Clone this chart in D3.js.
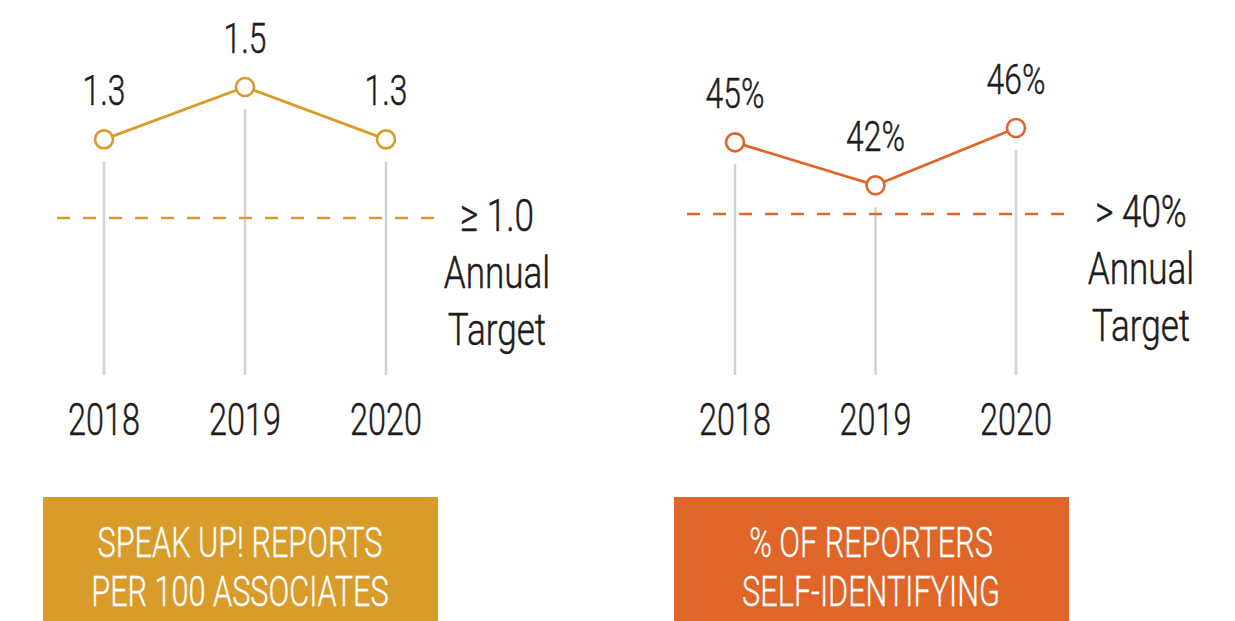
<!DOCTYPE html>
<html>
<head>
<meta charset="utf-8">
<script src="https://cdn.jsdelivr.net/npm/d3@7"></script>
<style>
  body { margin: 0; background: #fff; }
  text { font-family: Roboto, "Liberation Sans Narrow", sans-serif; font-weight: 300; }
</style>
</head>
<body>
<svg></svg>
<script>
// data
const years = ["2018", "2019", "2020"];

const reportsPer100 = [1.3, 1.5, 1.3];
const reportsLabels = ["1.3", "1.5", "1.3"];
const reportsTarget = 1.0;
const reportsTargetLabel = ["\u2265 1.0", "Annual", "Target"];
const reportsTitle = ["SPEAK UP! REPORTS", "PER 100 ASSOCIATES"];

const selfIdPct = [45, 42, 46];
const selfIdLabels = ["45%", "42%", "46%"];
const selfIdTarget = 40;
const selfIdTargetLabel = ["> 40%", "Annual", "Target"];
const selfIdTitle = ["% OF REPORTERS", "SELF-IDENTIFYING"];

const width = 1235;
const height = 621;
const squeeze = 0.72;   // fake a condensed face
const ink = "#1f1c1d";
const grey = "#cdd3d9";

const panels = [
  { values: reportsPer100, labels: reportsLabels, target: reportsTarget,
    targetLabel: reportsTargetLabel, title: reportsTitle,
    color: "#d99c2b", left: 0, domain: [1.0, 1.5], range: [218, 87],
    xRange: [104, 386], dash: [57, 435], labelX: 497 },
  { values: selfIdPct, labels: selfIdLabels, target: selfIdTarget,
    targetLabel: selfIdTargetLabel, title: selfIdTitle,
    color: "#df6628", left: 631, domain: [40, 46], range: [214, 128],
    xRange: [104, 385], dash: [56, 434], labelX: 510 }
];

const svg = d3.select("svg")
              .attr("width", width)
              .attr("height", height);

function addText(g, x, y, str, size, fill, sx, sw) {
  const c = fill || ink;
  return g.append("text")
          .attr("transform", `translate(${x},${y}) scale(${sx || squeeze},1)`)
          .attr("text-anchor", "middle")
          .style("font-size", size + "px")
          .attr("fill", c)
          .attr("stroke", c)
          .attr("stroke-width", sw === undefined ? 0.5 : sw)
          .text(str);
}

panels.forEach(p => {
  const g = svg.append("g").attr("transform", `translate(${p.left},0)`);

  const x = d3.scalePoint().domain(years).range(p.xRange);
  const y = d3.scaleLinear().domain(p.domain).range(p.range);
  const pts = years.map((yr, i) => ({ year: yr, v: p.values[i], label: p.labels[i] }));

  // grey drop lines
  g.selectAll("line.drop")
    .data(pts)
    .enter()
    .append("line")
      .attr("x1", d => x(d.year))
      .attr("x2", d => x(d.year))
      .attr("y1", d => y(d.v) + 22)
      .attr("y2", 375)
      .attr("stroke", grey)
      .attr("stroke-width", 2.5);

  // target line
  const ty = y(p.target);
  g.append("line")
    .attr("x1", p.dash[0])
    .attr("x2", p.dash[1])
    .attr("y1", ty)
    .attr("y2", ty)
    .attr("stroke", p.color)
    .attr("stroke-width", 2.5)
    .attr("stroke-dasharray", "13,13");

  p.targetLabel.forEach((t, i) => {
    addText(g, p.labelX, ty + 13 + i * 57, t, 45, ink, 0.78);
  });

  // series line + markers
  g.append("path")
    .datum(pts)
    .attr("fill", "none")
    .attr("stroke", p.color)
    .attr("stroke-width", 2.8)
    .attr("d", d3.line().x(d => x(d.year)).y(d => y(d.v)));

  g.selectAll("circle")
    .data(pts)
    .enter()
    .append("circle")
      .attr("cx", d => x(d.year))
      .attr("cy", d => y(d.v))
      .attr("r", 9)
      .attr("fill", "#fff")
      .attr("stroke", p.color)
      .attr("stroke-width", 2.6);

  pts.forEach(d => addText(g, x(d.year), y(d.v) - 34, d.label, 43, ink, 0.74));

  years.forEach(yr => addText(g, x(yr), 435, yr, 45));

  // title box
  g.append("rect")
    .attr("x", 43)
    .attr("y", 497)
    .attr("width", 395)
    .attr("height", 124)
    .attr("fill", p.color);

  p.title.forEach((t, i) => addText(g, 240, 557 + i * 49, t, 42, "#fff", 0.73, 0.3));
});
</script>
</body>
</html>
